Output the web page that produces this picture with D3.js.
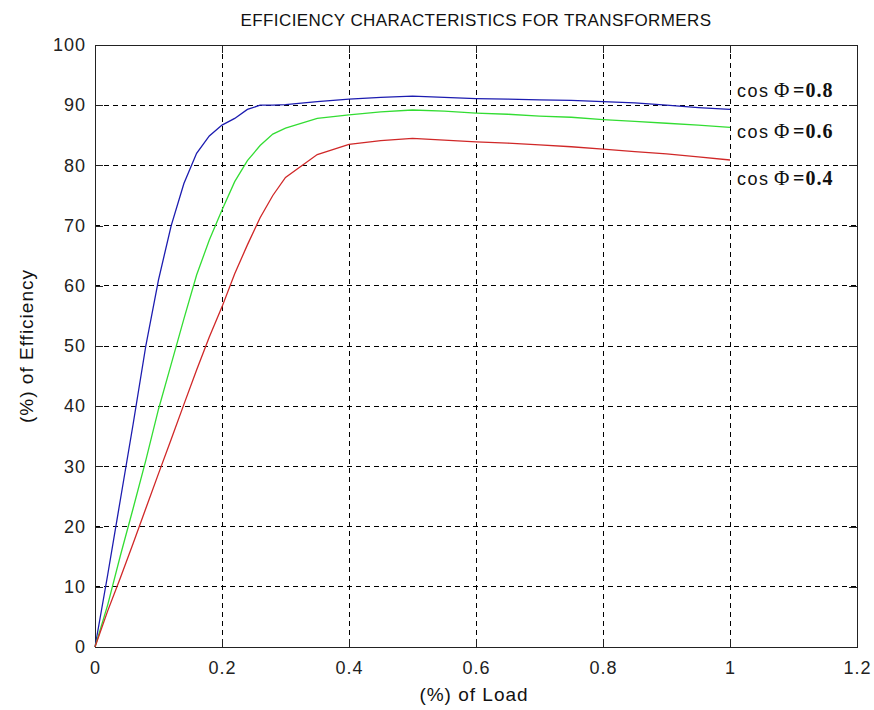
<!DOCTYPE html>
<html>
<head>
<meta charset="utf-8">
<script src="https://cdn.jsdelivr.net/npm/d3@7"></script>
<style>
  body { margin: 0; background: #fff; }
  svg { display: block; font-family: "Liberation Sans", Arial, sans-serif; }
</style>
</head>
<body>
<svg width="874" height="710"></svg>
<script>
// per-unit load and % efficiency
var load = [0, 0.02, 0.04, 0.06, 0.08, 0.10, 0.12, 0.14, 0.16, 0.18, 0.20, 0.22, 0.24, 0.26, 0.28, 0.30,
            0.35, 0.40, 0.45, 0.50, 0.55, 0.60, 0.65, 0.70, 0.75, 0.80, 0.85, 0.90, 0.95, 1.00];
var eff08 = [0, 12, 24.5, 37, 50, 61, 70, 77, 82, 84.9, 86.7, 87.8, 89.3, 90.0, 90.0, 90.1,
             90.6, 91.0, 91.3, 91.5, 91.3, 91.1, 91.0, 90.9, 90.8, 90.6, 90.4, 90.0, 89.6, 89.3];
var eff06 = [0, 7, 15.2, 23, 31, 39.5, 47, 54.5, 61.8, 67.6, 72.6, 77.3, 80.8, 83.3, 85.2, 86.2,
             87.8, 88.4, 88.9, 89.2, 89.0, 88.7, 88.5, 88.2, 88.0, 87.6, 87.3, 87.0, 86.7, 86.3];
var eff04 = [0, 6, 11.5, 17.2, 23, 28.8, 34.5, 40.3, 46, 51.5, 56.5, 62, 66.8, 71.3, 75, 78,
             81.8, 83.5, 84.1, 84.5, 84.2, 83.9, 83.7, 83.4, 83.1, 82.7, 82.3, 81.9, 81.4, 80.9];
var pfLabels = ["0.8", "0.6", "0.4"];
var xTicks = [0, 0.2, 0.4, 0.6, 0.8, 1, 1.2];
var yTicks = [0, 10, 20, 30, 40, 50, 60, 70, 80, 90, 100];

var svg = d3.select("svg");
var padL = 95, padR = 857, padT = 45, padB = 647;

var x = d3.scaleLinear().domain([0, 1.2]).range([padL, padR]);
var y = d3.scaleLinear().domain([0, 100]).range([padB, padT]);

// grid
var grid = svg.append("g").attr("stroke", "#000").attr("stroke-width", 1)
    .attr("stroke-dasharray", "5,4").attr("shape-rendering", "crispEdges");
grid.selectAll("line.gx").data(xTicks.slice(1, -1)).enter().append("line")
    .attr("x1", function (d) { return x(d); }).attr("x2", function (d) { return x(d); })
    .attr("y1", padT).attr("y2", padB);
grid.selectAll("line.gy").data(yTicks.slice(1, -1)).enter().append("line")
    .attr("y1", function (d) { return y(d); }).attr("y2", function (d) { return y(d); })
    .attr("x1", padL).attr("x2", padR);

// axes, ticks inside like matlab
svg.append("g").attr("transform", "translate(0," + padB + ")")
    .call(d3.axisBottom(x).tickValues(xTicks).tickSize(-8).tickPadding(14)
        .tickFormat(function (d) { return d; }));
svg.append("g").attr("transform", "translate(" + padL + ",0)")
    .call(d3.axisLeft(y).tickValues(yTicks).tickSize(-8).tickPadding(9));
svg.append("g").attr("transform", "translate(0," + padT + ")")
    .call(d3.axisTop(x).tickValues(xTicks).tickSize(-8).tickFormat(""));
svg.append("g").attr("transform", "translate(" + padR + ",0)")
    .call(d3.axisRight(y).tickValues(yTicks).tickSize(-8).tickFormat(""));

svg.selectAll(".domain, .tick line").attr("stroke", "#222").attr("shape-rendering", "crispEdges");
svg.selectAll(".tick text").attr("font-size", 18).attr("fill", "#222")
    .attr("font-family", "'Liberation Sans', Arial, sans-serif").attr("letter-spacing", 1);

// curves
var series = [
    {vals: eff08, color: "#1c1cb0"},
    {vals: eff06, color: "#33dd33"},
    {vals: eff04, color: "#d02828"}
];
var line = d3.line()
    .x(function (d, i) { return x(load[i]); })
    .y(function (d) { return y(d); });
svg.append("g").selectAll("path").data(series).enter().append("path")
    .attr("d", function (d) { return line(d.vals); })
    .attr("fill", "none")
    .attr("stroke", function (d) { return d.color; })
    .attr("stroke-width", 1.3);

// curve labels
var labelY = [91.4, 84.6, 76.8];
pfLabels.forEach(function (p, i) {
    var t = svg.append("text").attr("y", y(labelY[i])).attr("fill", "#111");
    t.append("tspan").attr("x", x(1) + 7).attr("font-size", 18).attr("letter-spacing", 1.5)
        .attr("font-family", "'Liberation Sans', Arial, sans-serif").text("cos");
    t.append("tspan").attr("x", x(1) + 44).attr("font-size", 21)
        .attr("font-family", "'Liberation Serif', 'Times New Roman', serif").text("\u03A6");
    t.append("tspan").attr("x", x(1) + 63).attr("font-size", 20).attr("font-weight", "bold")
        .attr("font-family", "'Liberation Serif', 'Times New Roman', serif").attr("letter-spacing", 1)
        .text("=" + p);
});

// title and axis labels
svg.append("text").attr("x", (padL + padR) / 2).attr("y", 26)
    .attr("text-anchor", "middle").attr("font-size", 17).attr("letter-spacing", 0.4)
    .attr("fill", "#111").text("EFFICIENCY CHARACTERISTICS FOR TRANSFORMERS");
svg.append("text").attr("x", (padL + padR) / 2 - 2).attr("y", 701)
    .attr("text-anchor", "middle").attr("font-size", 19).attr("letter-spacing", 1)
    .attr("fill", "#111").text("(%) of Load");
svg.append("text").attr("transform", "translate(33," + y(50) + ") rotate(-90)")
    .attr("text-anchor", "middle").attr("font-size", 19).attr("letter-spacing", 1)
    .attr("fill", "#111").text("(%) of Efficiency");
</script>
</body>
</html>
